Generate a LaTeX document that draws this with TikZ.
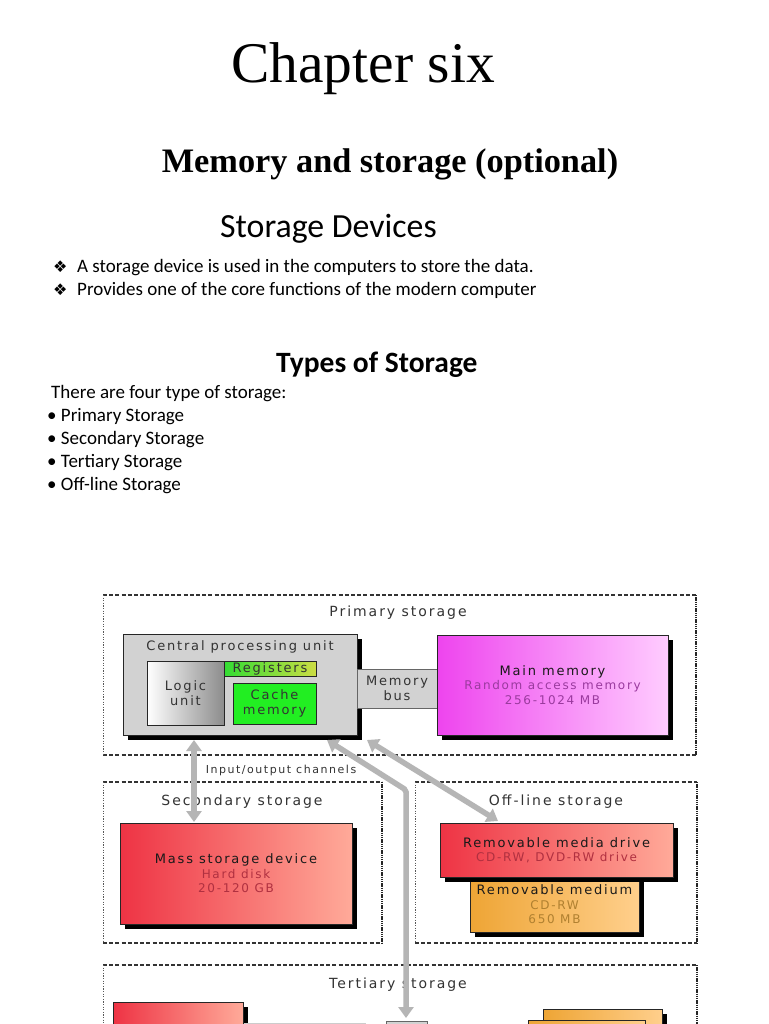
\documentclass[tikz,border=0pt]{standalone}
\usepackage{fontspec}
\setmainfont{Carlito}
\newfontfamily\seriff{Liberation Serif}
\newfontfamily\diagf[LetterSpace=14]{DejaVu Sans}
\newfontfamily\symf{DejaVu Sans}
\usetikzlibrary{arrows.meta,calc}
\definecolor{arrowgray}{HTML}{B5B5B5}
\definecolor{cpugray}{HTML}{D2D2D2}
\definecolor{memL}{HTML}{EE44EE}
\definecolor{memR}{HTML}{FFCCFF}
\definecolor{redL}{HTML}{EE3344}
\definecolor{redR}{HTML}{FFAA99}
\definecolor{orL}{HTML}{EEA535}
\definecolor{orR}{HTML}{FFCF8C}
\definecolor{regL}{HTML}{33DD33}
\definecolor{regR}{HTML}{CCDD44}
\definecolor{cacheG}{HTML}{22EE22}
\definecolor{memtxt}{HTML}{9A3A9E}
\definecolor{redtxt}{HTML}{B03040}
\definecolor{ortxt}{HTML}{B08030}
\definecolor{lbltxt}{HTML}{333333}
\definecolor{boxtxt}{HTML}{1A1A1A}
\newcommand\regbox[5]{%
  \coordinate (#1-nw) at (#2,#3); \coordinate (#1-se) at (#4,#5);
  \draw[hdash] (#1-nw) -- (#4,#3); \draw[hdash] (#2,#5) -- (#1-se);
  \draw[vthin] (#1-nw) -- (#2,#5); \draw[vthick] (#4,#3) -- (#1-se);}
\begin{document}
\begin{tikzpicture}[x=1pt,y=-1pt,
  hdash/.style={draw=black!80, line width=2.3pt, dash pattern=on 4pt off 2.2pt},
  vthin/.style={draw=black!65, line width=1pt, dash pattern=on 1.2pt off 1.4pt},
  vthick/.style={draw=black!85, line width=2.2pt, dash pattern=on 1.3pt off 0.9pt},
  dbox/.style={draw=black!85, line width=0.8pt, inner sep=0pt, outer sep=0pt, anchor=north west, align=center, text=boxtxt, font=\diagf\fontsize{13}{14.5}\selectfont},
  shadowed/.style={preaction={fill=black, transform canvas={shift={(4.5pt,-4.5pt)}}}},
  rlabel/.style={font=\diagf\fontsize{14}{16}\selectfont, text=lbltxt, inner sep=0pt},
  busarrow/.style={draw=arrowgray, line width=5.5pt, {Triangle[width=15pt,length=11pt]}-{Triangle[width=15pt,length=11pt]}},
  body/.style={font=\fontsize{19}{23}\selectfont, inner sep=0pt, anchor=base west},
  bul/.style={font=\symf\fontsize{16}{18}\selectfont, inner sep=0pt, anchor=base west}
]
\useasboundingbox (0,0) rectangle (768,1024);
\clip (0,0) rectangle (768,1024);
\fill[white] (0,0) rectangle (768,1024);

% ---- slide text ----
\node[font=\seriff\fontsize{57.5}{60}\selectfont, inner sep=0pt, anchor=base] (title) at (363,83) {Chapter six};
\node[font=\seriff\bfseries\fontsize{34.3}{36}\selectfont, inner sep=0pt, anchor=base] (sub) at (390,173) {Memory and storage (optional)};
\node[font=\fontsize{33.8}{36}\selectfont, inner sep=0pt, anchor=base west] (sd) at (220,237) {Storage Devices};
\node[bul] (b1) at (53,272) {❖};
\node[body] (l1) at (77,272) {A storage device is used in the computers to store the data.};
\node[bul] (b2) at (53,295) {❖};
\node[body] (l2) at (77,295) {Provides one of the core functions of the modern computer};
\node[font=\bfseries\fontsize{29.5}{32}\selectfont, inner sep=0pt, anchor=base west] (types) at (276,372) {Types of Storage};
\node[body] (t0) at (51,398) {There are four type of storage:};
\node[body] (t1) at (47,421) {• Primary Storage};
\node[body] (t2) at (47,444) {• Secondary Storage};
\node[body] (t3) at (47,467) {• Tertiary Storage};
\node[body] (t4) at (47,490) {• Off-line Storage};

% ---- regions ----
\regbox{prim}{103}{595}{696}{755}
\regbox{sec}{103}{782}{382}{943}
\regbox{off}{415}{782}{697}{943}
\regbox{ter}{103}{965}{697}{1040}
\node[rlabel] (lprim) at (398,613) {Primary storage};
\node[rlabel] (lsec) at (242,802) {Secondary storage};
\node[rlabel] (loff) at (556,802) {Off-line storage};
\node[rlabel] (lter) at (398,985) {Tertiary storage};

% ---- primary storage ----
\node[dbox, shadowed, fill=cpugray, minimum width=234pt, minimum height=101pt] (cpu) at (123,634) {};
\node[font=\diagf\fontsize{13}{14}\selectfont, text=lbltxt, inner sep=0pt] (cpul) at (240,647) {Central processing unit};
\node[dbox, left color=white, right color=black!45, minimum width=77pt, minimum height=64pt, text=lbltxt] (logic) at (147,661) {Logic\\unit};
\node[dbox, left color=regL, right color=regR, minimum width=92pt, minimum height=15pt, text=lbltxt] (reg) at (224,661) {Registers};
\node[dbox, fill=cacheG, minimum width=83pt, minimum height=41pt, text=lbltxt] (cache) at (233,683) {Cache\\memory};
\node[dbox, fill=cpugray, draw=black!60, minimum width=80pt, minimum height=39pt, text=lbltxt] (bus) at (357,669) {Memory\\bus};
\node[dbox, shadowed, left color=memL, right color=memR, minimum width=231pt, minimum height=100pt] (mainmem) at (437,635)
  {Main memory\\{\fontsize{12}{14}\selectfont\color{memtxt}Random access memory}\\{\fontsize{12}{14}\selectfont\color{memtxt}256-1024 MB}};

% ---- secondary storage ----
\node[dbox, shadowed, left color=redL, right color=redR, minimum width=232pt, minimum height=101pt] (mass) at (120,823)
  {Mass storage device\\{\fontsize{12}{14}\selectfont\color{redtxt}Hard disk}\\{\fontsize{12}{14}\selectfont\color{redtxt}20-120 GB}};

% ---- off-line storage ----
\node[dbox, shadowed, left color=orL, right color=orR, minimum width=169pt, minimum height=55pt] (medium) at (470,877)
  {Removable medium\\{\fontsize{12}{13}\selectfont\color{ortxt}CD-RW}\\{\fontsize{12}{13}\selectfont\color{ortxt}650 MB}};
\node[dbox, shadowed, left color=redL, right color=redR, minimum width=233pt, minimum height=54pt] (drive) at (440,823)
  {Removable media drive\\{\fontsize{12}{14}\selectfont\color{redtxt}CD-RW, DVD-RW drive}};

% ---- tertiary storage (cut off) ----
\node[dbox, shadowed, left color=redL, right color=redR, minimum width=130pt, minimum height=40pt] (tmass) at (113,1002) {};
\node[dbox, draw=black!20, fill=white, minimum width=121pt, minimum height=20pt] (tlink) at (244,1023) {};
\node[dbox, fill=cpugray, draw=black!60, minimum width=41pt, minimum height=30pt] (robot) at (386,1021) {};
\node[dbox, shadowed, left color=orL, right color=orR, minimum width=119pt, minimum height=40pt] (tmed1) at (543,1009) {};
\node[dbox, shadowed, left color=orL, right color=orR, minimum width=117pt, minimum height=40pt] (tmed2) at (528,1020) {};

% ---- channels ----
\node[font=\diagf\fontsize{11}{13}\selectfont, text=lbltxt, inner sep=0pt] (io) at (281,770) {Input/output channels};
\coordinate (x1) at (194,0);
\coordinate (x2) at (327,0);
\coordinate (bend) at (406,790);
\coordinate (a3s) at (367,740);
\coordinate (x3) at (498,0);
\draw[busarrow] ($(cpu.south -| x1)+(0,5)$) -- ($(mass.north -| x1)+(0,-1)$);
\draw[busarrow, rounded corners=2pt] ($(cpu.south -| x2)+(0,5)$) -- (bend) -- ($(robot.north -| bend)+(0,-3)$);
\draw[busarrow] (a3s) -- ($(drive.north -| x3)+(0,-2)$);
\end{tikzpicture}
\end{document}
